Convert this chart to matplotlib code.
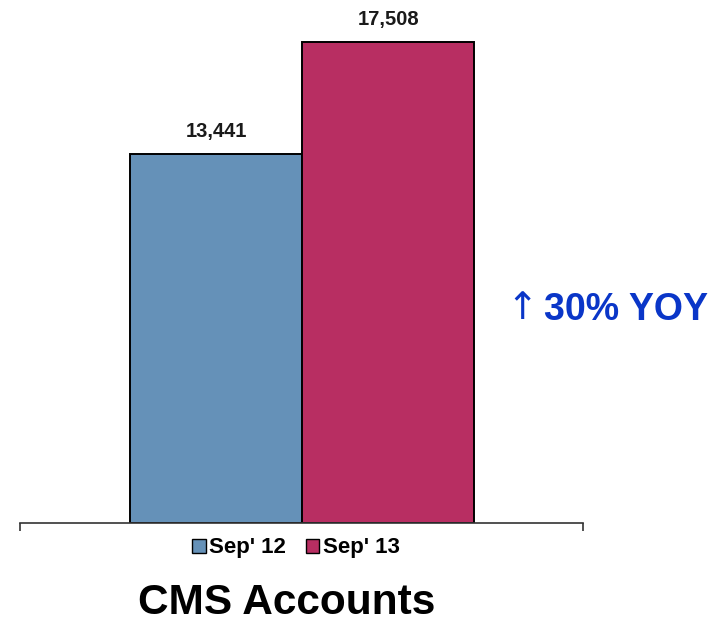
import matplotlib.pyplot as plt
from matplotlib.patches import Patch

# данные
labels = ["Sep' 12", "Sep' 13"]
values = [13441, 17508]
colors = ['#6591B8', '#B82E62']

plt.rcParams['font.family'] = ['Liberation Sans', 'DejaVu Sans']

fig = plt.figure(figsize=(7.21, 6.34), dpi=100)
ax = fig.add_axes([20/721, 1 - 523/634, 563/721, 513/634])

x = [0, 1]
ax.bar(x, values, width=1.0, color=colors, edgecolor='black', linewidth=1.4)

for xi, v in zip(x, values):
    ax.text(xi, v + 18673 * 0.025, f'{v:,}', ha='center', va='bottom',
            fontsize=14.5, fontweight='bold', color='#1a1a1a')

xmin, xmax = -1.1424, 2.131
ax.set_xlim(xmin, xmax)
ax.set_ylim(0, 18673)
ax.set_yticks([])
ax.set_xticks([xmin, xmax])
ax.set_xticklabels([])
ax.tick_params(axis='x', direction='out', length=6, width=1.2, color='#333333')
for s in ['top', 'right', 'left']:
    ax.spines[s].set_visible(False)
ax.spines['bottom'].set_linewidth(1.2)
ax.spines['bottom'].set_color('#333333')

handles = [Patch(facecolor=c, edgecolor='black', linewidth=1.0) for c in colors]
fig.legend(handles, labels, loc='center', bbox_to_anchor=(296/721, 1 - 548/634),
           ncol=2, frameon=False, handlelength=0.6, handleheight=0.6,
           handletextpad=0.15, columnspacing=0.9,
           prop={'size': 16, 'weight': 'bold'})

blue = '#0A36C8'
fig.text(522/721, 1 - 309/634, '↑', ha='center', va='center',
         fontsize=27, color=blue, family='DejaVu Sans')
fig.text(544/721, 1 - 310/634, '30% YOY', ha='left', va='center',
         fontsize=27, fontweight='bold', color=blue)
fig.text(287/721, 1 - 603/634, 'CMS Accounts', ha='center', va='center',
         fontsize=30.5, fontweight='bold', color='black')

fig.savefig('out.png', dpi=100)
